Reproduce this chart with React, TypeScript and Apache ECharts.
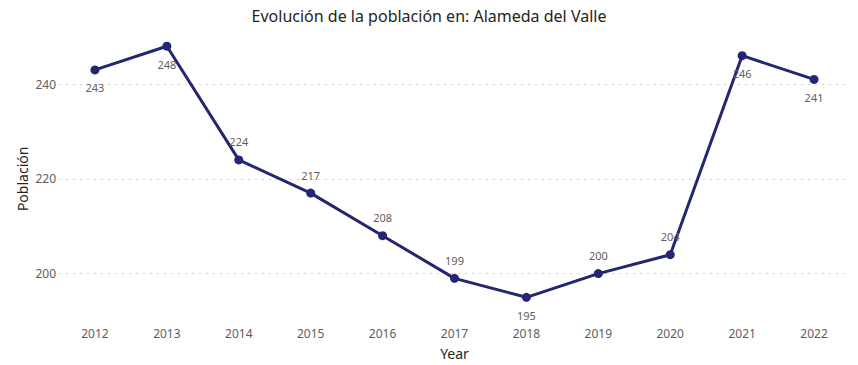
import React, { useEffect, useRef } from "react";
import * as echarts from "echarts";

const years = ["2012", "2013", "2014", "2015", "2016", "2017", "2018", "2019", "2020", "2021", "2022"];
const population = [243, 248, 224, 217, 208, 199, 195, 200, 204, 246, 241];
const labelPositions = ["bottom", "bottom", "top", "top", "top", "top", "bottom", "top", "top", "bottom", "bottom"];
const yTicks = [190, 200, 210, 220, 230, 240, 250];
const yShownTicks = [200, 220, 240];

const FONT = "'Segoe UI', 'Noto Sans', 'Open Sans', sans-serif";

export default function App() {
  const ref = useRef<HTMLDivElement>(null);
  useEffect(() => {
    document.body.style.margin = "0";
    const chart = echarts.init(ref.current!, undefined, { renderer: "svg" });
    chart.setOption({
      animation: false,
      backgroundColor: "#ffffff",
      title: {
        text: "Evolución de la población en: Alameda del Valle",
        left: "center",
        top: 3,
        textStyle: { fontFamily: FONT, fontSize: 16, fontWeight: "normal", color: "#252423" },
      },
      grid: { left: 59, right: 8, top: 36.75, bottom: 38.5 },
      xAxis: {
        type: "category",
        data: years,
        boundaryGap: true,
        name: "Year",
        nameLocation: "middle",
        nameGap: 25,
        nameTextStyle: { fontFamily: FONT, fontSize: 14, color: "#252423" },
        axisLine: { show: false },
        axisTick: { show: false },
        axisLabel: { fontFamily: FONT, fontSize: 12, color: "#605e5c", margin: 6 },
      },
      yAxis: {
        type: "value",
        min: yTicks[0],
        max: yTicks[yTicks.length - 1],
        interval: 10,
        name: "Población",
        nameLocation: "middle",
        nameGap: 30,
        nameMoveOverlap: false,
        nameTextStyle: { fontFamily: FONT, fontSize: 14, color: "#252423" },
        axisLine: { show: false },
        axisTick: { show: false },
        axisLabel: {
          fontFamily: FONT,
          fontSize: 12,
          color: "#605e5c",
          margin: 3,
          formatter: (v: number) => (yShownTicks.includes(v) ? String(v) : ""),
        },
        splitLine: {
          show: true,
          lineStyle: {
            type: [2, 5],
            width: 1,
            color: yTicks.map((t) => (yShownTicks.includes(t) ? "#d0d0d0" : "rgba(0,0,0,0)")),
          },
        },
      },
      series: [
        {
          type: "line",
          data: population.map((v, i) => ({
            value: v,
            label: { position: labelPositions[i] },
          })),
          symbol: "circle",
          symbolSize: 9,
          lineStyle: { color: "#252672", width: 3 },
          itemStyle: { color: "#252672" },
          label: {
            show: true,
            fontFamily: FONT,
            fontSize: 11,
            color: "#605e5c",
            distance: 8,
          },
        },
      ],
    });
    return () => chart.dispose();
  }, []);
  return <div ref={ref} style={{ width: 858, height: 365 }} />;
}
